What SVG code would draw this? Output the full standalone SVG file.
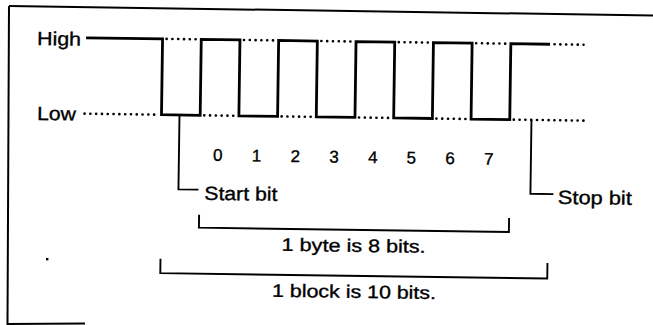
<svg xmlns="http://www.w3.org/2000/svg" width="653" height="325" viewBox="0 0 653 325">
<style>
text{font-family:"Liberation Sans",Arial,sans-serif;fill:#000;stroke:#000;stroke-width:0.35}
.lbl{font-size:19px}
.dig{font-size:17px;text-anchor:middle}
.cap{font-size:18px;text-anchor:middle}
.wave{fill:none;stroke:#000;stroke-width:2.8;stroke-linejoin:miter}
.dot{fill:none;stroke:#000;stroke-width:2.6;stroke-linecap:round;stroke-dasharray:0.1 5.7}
.thin{fill:none;stroke:#000;stroke-width:1.9}
.frame{fill:none;stroke:#000;stroke-width:2}
</style>
<rect width="653" height="325" fill="#fff"/>
<g id="frame">
<path class="frame" d="M9 6 L653 15.5"/>
<path class="frame" d="M9 6 L7.5 324 L85 323.5"/>
<rect x="46" y="258" width="2.4" height="2.4" fill="#000"/>
</g>
<g transform="rotate(0.8 9 6)">
<g id="levels">
<text class="lbl" x="37.5" y="44.6" textLength="44" lengthAdjust="spacingAndGlyphs">High</text>
<text class="lbl" x="38.5" y="119.5" textLength="39" lengthAdjust="spacingAndGlyphs">Low</text>
</g>
<g id="signal">
<path class="wave" d="M86.5 36.7 H163 V112.6 H201.7 V36.7 H240.4 V112.6 H279.1 V36.7 H317.8 V112.6 H356.5 V36.7 H395.2 V112.6 H433.9 V36.7 H472.6 V112.6 H511.3 V36.7 H550.5"/>
<path class="dot" d="M167 36.7 H199 M244.4 36.7 H277 M321.8 36.7 H354 M399.2 36.7 H431 M476.6 36.7 H509 M555 36.7 H584"/>
<path class="dot" d="M86 112.6 H160 M205.7 112.6 H238 M283.1 112.6 H315 M360.5 112.6 H393 M437.9 112.6 H470 M515.3 112.6 H590"/>
</g>
<g id="bits">
<text class="dig" x="220" y="158">0</text>
<text class="dig" x="258.7" y="158">1</text>
<text class="dig" x="297.4" y="158">2</text>
<text class="dig" x="336.1" y="158">3</text>
<text class="dig" x="374.8" y="158">4</text>
<text class="dig" x="413.5" y="158">5</text>
<text class="dig" x="452.2" y="158">6</text>
<text class="dig" x="490.9" y="158">7</text>
</g>
<g id="start-bit">
<path class="thin" d="M181 112.6 V187 H201"/>
<text class="lbl" x="207" y="197" textLength="73" lengthAdjust="spacingAndGlyphs">Start bit</text>
</g>
<g id="stop-bit">
<path class="thin" d="M533 112.6 V186.5 H556"/>
<text class="lbl" x="560.5" y="196" textLength="74" lengthAdjust="spacingAndGlyphs">Stop bit</text>
</g>
<g id="byte">
<path class="thin" d="M202 212 V225 H512 V211"/>
<text class="cap" x="357" y="247" textLength="144" lengthAdjust="spacingAndGlyphs">1 byte is 8 bits.</text>
</g>
<g id="block">
<path class="thin" d="M164 256.5 V271 H551 V255.5"/>
<text class="cap" x="358" y="293" textLength="164" lengthAdjust="spacingAndGlyphs">1 block is 10 bits.</text>
</g>
</g>
</svg>
